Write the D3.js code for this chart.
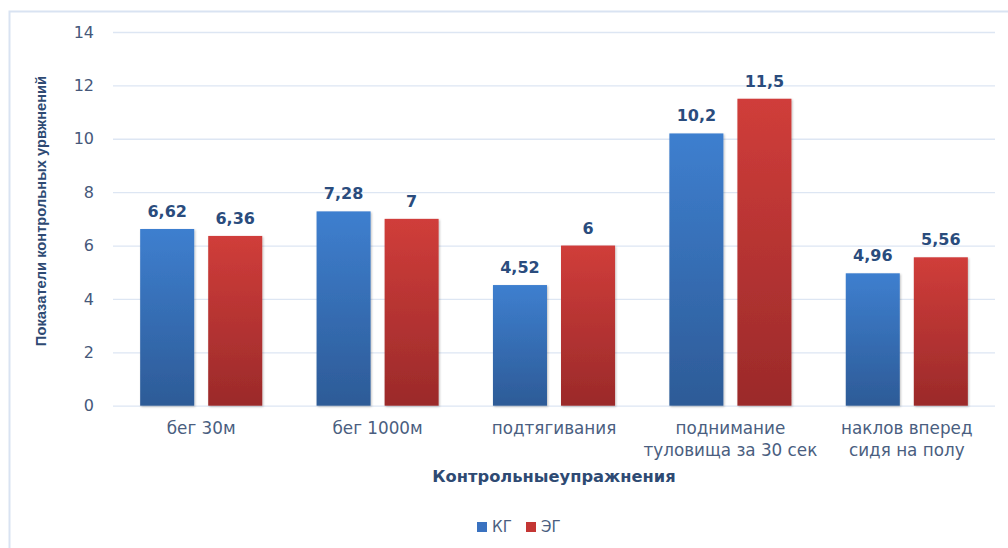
<!DOCTYPE html>
<html><head><meta charset="utf-8">
<script src="https://cdn.jsdelivr.net/npm/d3@7"></script>
<style>
html,body{margin:0;padding:0;background:#fff;}
svg{display:block;}
</style></head>
<body>
<svg id="chart" width="1008" height="548"></svg>
<script>
const categories = [["бег 30м"], ["бег 1000м"], ["подтягивания"], ["поднимание", "туловища за 30 сек"], ["наклов вперед", "сидя на полу"]];
const seriesNames = ["КГ", "ЭГ"];
const valuesKG = [6.62, 7.28, 4.52, 10.2, 4.96];
const valuesEG = [6.36, 7, 6, 11.5, 5.56];
const yTicks = [0, 2, 4, 6, 8, 10, 12, 14];
const xTitle = "Контрольныеупражнения";
const yTitle = "Показатели контрольных урвжнений";

(function () {
const svg = d3.select("#chart");
const pLeft = 113, pRight = 995, pTop = 32, pBottom = 405.7;

const defs = svg.append("defs");
const gradSpecs = [["gBlue", "#3e7fcf", "#2d5b97"], ["gRed", "#d03d3a", "#9b2a2a"]];
gradSpecs.forEach(([id, c1, c2]) => {
  const g = defs.append("linearGradient").attr("id", id).attr("x1", 0).attr("y1", 0).attr("x2", 0).attr("y2", 1);
  g.append("stop").attr("offset", "0%").attr("stop-color", c1);
  g.append("stop").attr("offset", "100%").attr("stop-color", c2);
});
const flt = defs.append("filter").attr("id", "shadow").attr("x", "-20%").attr("y", "-10%").attr("width", "140%").attr("height", "120%");
flt.append("feDropShadow").attr("dx", 1).attr("dy", 1).attr("stdDeviation", 1.2).attr("flood-color", "#000").attr("flood-opacity", 0.25);

// frame
svg.append("rect").attr("x", 9.5).attr("y", 11.5).attr("width", 1010).attr("height", 560)
  .attr("fill", "none").attr("stroke", "#d9e3f2").attr("stroke-width", 2);

const y = d3.scaleLinear().domain([0, 14]).range([pBottom, pTop]);
const x0 = d3.scaleBand().domain(d3.range(categories.length)).range([pLeft, pRight]).paddingInner(0.308).paddingOuter(0.154);
const x1 = d3.scaleBand().domain(seriesNames).range([0, x0.bandwidth()]).paddingInner(0.206).paddingOuter(0);

// grid
const yAxis = d3.axisLeft(y).tickValues(yTicks).tickSize(-(pRight - pLeft)).tickPadding(19).tickFormat(d3.format("d"));
const ga = svg.append("g").attr("transform", `translate(${pLeft},0)`).call(yAxis);
ga.select(".domain").remove();
ga.selectAll(".tick line").attr("stroke", "#dde6f3").attr("stroke-width", 1.3);
ga.selectAll(".tick text").attr("fill", "#46587a").attr("font-family", "DejaVu Sans, sans-serif").attr("font-size", "16px");

const series = [valuesKG, valuesEG];
const fills = ["url(#gBlue)", "url(#gRed)"];
const fmt = v => String(v).replace(".", ",");

seriesNames.forEach((name, si) => {
  const g = svg.append("g");
  g.selectAll("rect").data(series[si]).join("rect")
    .attr("x", (d, i) => x0(i) + x1(name))
    .attr("y", d => y(d))
    .attr("width", x1.bandwidth())
    .attr("height", d => y(0) - y(d))
    .attr("fill", fills[si])
    .attr("filter", "url(#shadow)");
  g.selectAll("text").data(series[si]).join("text")
    .attr("x", (d, i) => x0(i) + x1(name) + x1.bandwidth() / 2)
    .attr("y", d => y(d) - 12)
    .attr("text-anchor", "middle")
    .attr("fill", "#2a4c7d")
    .attr("font-family", "DejaVu Sans, sans-serif")
    .attr("font-weight", "bold")
    .attr("font-size", "16px")
    .text(d => fmt(d));
});

// category labels
const cg = svg.append("g");
categories.forEach((lines, i) => {
  const cx = x0(i) + x0.bandwidth() / 2;
  const t = cg.append("text")
    .attr("x", cx)
    .attr("y", 434)
    .attr("text-anchor", "middle")
    .attr("fill", "#4a5e80")
    .attr("font-family", "DejaVu Sans, sans-serif")
    .attr("font-size", "16.8px");
  lines.forEach((ln, k) => t.append("tspan").attr("x", cx).attr("dy", k ? 22 : 0).text(ln));
});

// axis titles
svg.append("text").attr("x", (pLeft + pRight) / 2).attr("y", 482).attr("text-anchor", "middle")
  .attr("fill", "#2e4a73").attr("font-family", "DejaVu Sans, sans-serif").attr("font-weight", "bold").attr("font-size", "16.3px")
  .text(xTitle);
svg.append("text").attr("transform", `translate(46,${(77 + 345) / 2}) rotate(-90)`).attr("text-anchor", "middle")
  .attr("fill", "#2e4a73").attr("font-family", "Liberation Sans, Arial, sans-serif").attr("font-weight", "bold").attr("font-size", "14.7px")
  .text(yTitle);

// legend
const legendColors = ["#3a72c0", "#c43634"];
const lg = svg.append("g");
const legX = [477, 526];
seriesNames.forEach((n, i) => {
  lg.append("rect").attr("x", legX[i]).attr("y", 522).attr("width", 10).attr("height", 10).attr("fill", legendColors[i]);
  lg.append("text").attr("x", legX[i] + 15).attr("y", 532).attr("fill", "#4a5e80")
    .attr("font-family", "DejaVu Sans, sans-serif").attr("font-size", "15px").text(n);
});
})();
</script>
</body></html>
